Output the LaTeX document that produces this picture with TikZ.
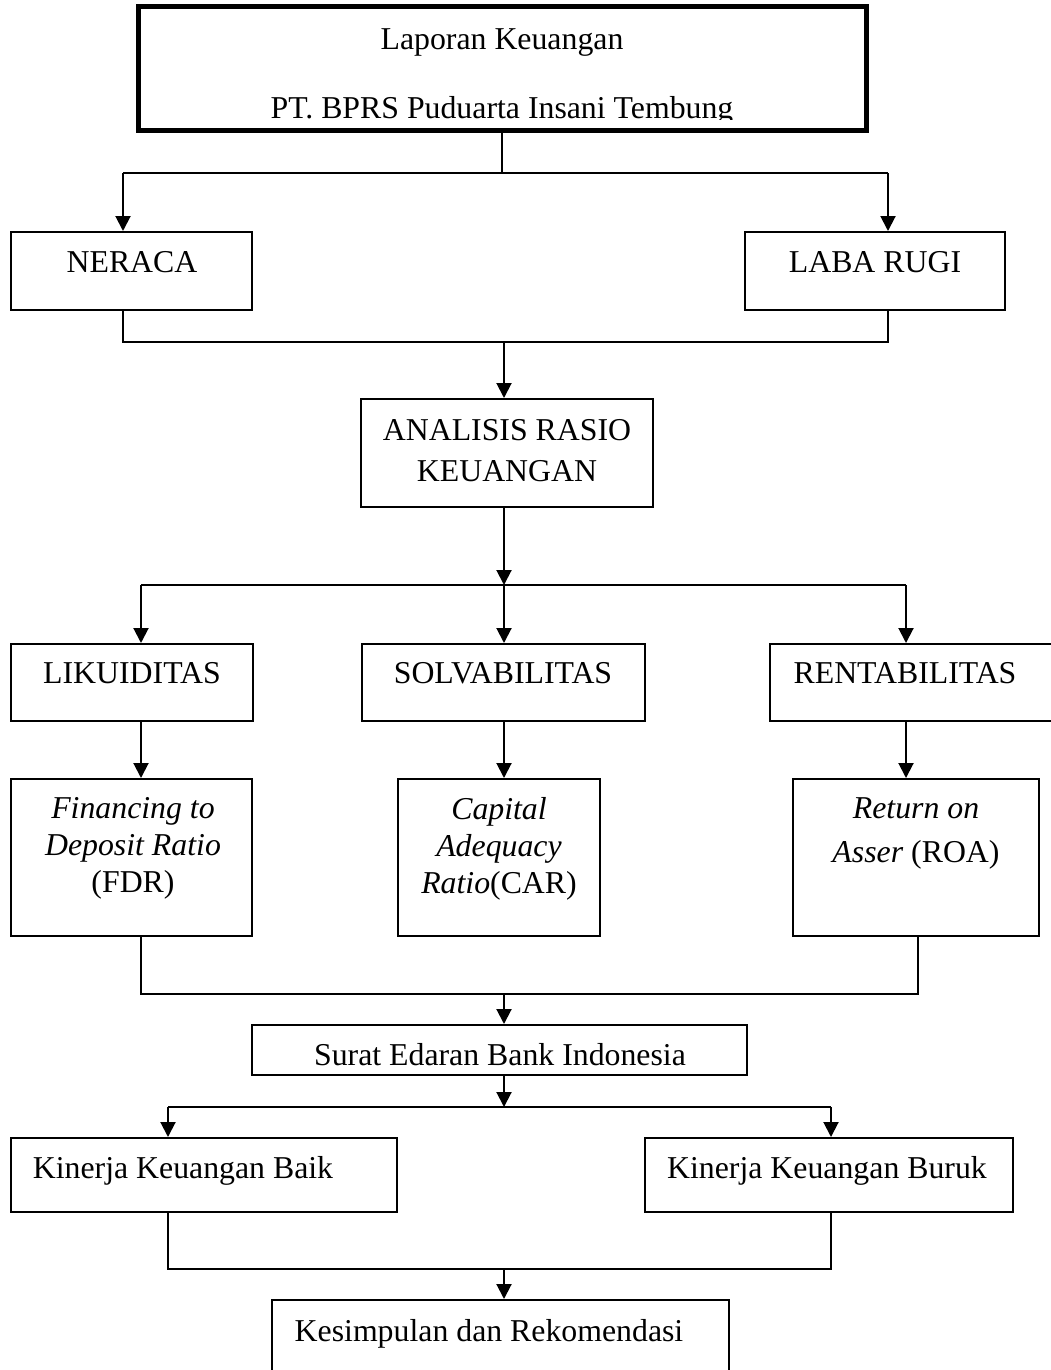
\documentclass[tikz,border=0pt]{standalone}
\usepackage{fontspec}
\setmainfont{Liberation Serif}
\usetikzlibrary{arrows.meta}

\tikzset{
  kotak/.style={draw,line width=1pt,inner sep=0pt},
  teks/.style={inner sep=0pt,align=center},
  garis/.style={line width=1pt},
  panah/.style={line width=1pt,-{Triangle[length=7.5pt,width=7.5pt]}}
}

\begin{document}
\begin{tikzpicture}[x=0.5pt,y=-0.5pt,font=\fontsize{15.9pt}{18.5pt}\selectfont]
\useasboundingbox (0,0) rectangle (1050,1370);

\node[kotak,line width=2.5pt,minimum width=364pt,minimum height=62pt](lap)at(502,69){};
\begin{scope}
\clip (138,7) rectangle (866,120);
\node[teks,anchor=north](lap-t)at(502,28){Laporan Keuangan\\[16pt]PT. BPRS Puduarta Insani Tembung};
\end{scope}

\node[kotak,minimum width=120.5pt,minimum height=39pt](neraca)at(131.5,271){};
\node[teks,anchor=base](neraca-t)at(132,272){NERACA};
\node[kotak,minimum width=130pt,minimum height=39pt](labarugi)at(875,271){};
\node[teks,anchor=base](labarugi-t)at(875,272){LABA RUGI};

\node[kotak,minimum width=146pt,minimum height=54pt](analisis)at(507,453){};
\node[teks,anchor=north](analisis-t)at(507,419){ANALISIS RASIO\\[2pt]KEUANGAN};

\node[kotak,minimum width=121pt,minimum height=38.5pt](likuid)at(132,682.5){};
\node[teks,anchor=base](likuid-t)at(132,683){LIKUIDITAS};
\node[kotak,minimum width=141.5pt,minimum height=38.5pt](solva)at(503.5,682.5){};
\node[teks,anchor=base](solva-t)at(503,683){SOLVABILITAS};
\node[kotak,minimum width=145pt,minimum height=38.5pt](renta)at(915,682.5){};
\node[teks,anchor=base](renta-t)at(905,683){RENTABILITAS};

\node[kotak,minimum width=120.5pt,minimum height=78.5pt](fdr)at(131.5,857.5){};
\node[teks,anchor=north](fdr-t)at(133,797.5){\textit{Financing to}\\\textit{Deposit Ratio}\\(FDR)};
\node[kotak,minimum width=101pt,minimum height=78.5pt](car)at(499,857.5){};
\node[teks,anchor=north](car-t)at(499,797){\textit{Capital}\\\textit{Adequacy}\\\textit{Ratio}(CAR)};
\node[kotak,minimum width=123pt,minimum height=78.5pt](roa)at(916,857.5){};
\node[teks,anchor=north](roa-t)at(916,797){\textit{Return on}\\[3.5pt]\textit{Asser} (ROA)};

\node[kotak,minimum width=247.5pt,minimum height=25pt](surat)at(499.5,1050){};
\node[teks,anchor=base](surat-t)at(500,1065){Surat Edaran Bank Indonesia};

\node[kotak,minimum width=193pt,minimum height=37pt](baik)at(204,1175){};
\node[teks,anchor=base](baik-t)at(183,1178){Kinerja Keuangan Baik};
\node[kotak,minimum width=184pt,minimum height=37pt](buruk)at(829,1175){};
\node[teks,anchor=base](buruk-t)at(827,1178){Kinerja Keuangan Buruk};

\node[kotak,minimum width=228.5pt,minimum height=45pt](simpul)at(500.5,1345){};
\node[teks,anchor=base](simpul-t)at(489,1341){Kesimpulan dan Rekomendasi};

\coordinate(c1)at(504,173);
\coordinate(c1l)at(123,173);
\coordinate(c1r)at(888,173);
\draw[garis](lap.south)--(lap.south|-c1);
\draw[garis](c1l)--(c1r);
\draw[panah](c1l)--(c1l|-neraca.north);
\draw[panah](c1r)--(c1r|-labarugi.north);

\coordinate(c2l)at(123,342);
\coordinate(c2r)at(888,342);
\draw[garis](c2l|-neraca.south)--(c2l)--(c2r)--(c2r|-labarugi.south);
\draw[panah](c1|-c2l)--(c1|-analisis.north);

\coordinate(c3l)at(141,585);
\coordinate(c3r)at(906,585);
\draw[panah](c1|-analisis.south)--(c1|-c3l);
\draw[garis](c3l)--(c3r);
\draw[panah](c3l)--(c3l|-likuid.north);
\draw[panah](c1|-c3l)--(c1|-solva.north);
\draw[panah](c3r)--(c3r|-renta.north);

\draw[panah](c3l|-likuid.south)--(c3l|-fdr.north);
\draw[panah](c1|-solva.south)--(c1|-car.north);
\draw[panah](c3r|-renta.south)--(c3r|-roa.north);

\coordinate(c5l)at(141,994);
\coordinate(c5r)at(918,994);
\draw[garis](c5l|-fdr.south)--(c5l)--(c5r)--(c5r|-roa.south);
\draw[panah](c1|-c5l)--(c1|-surat.north);

\coordinate(c6l)at(168,1107);
\coordinate(c6r)at(831,1107);
\draw[panah](c1|-surat.south)--(c1|-c6l);
\draw[garis](c6l)--(c6r);
\draw[panah](c6l)--(c6l|-baik.north);
\draw[panah](c6r)--(c6r|-buruk.north);

\coordinate(c7l)at(168,1269);
\coordinate(c7r)at(831,1269);
\draw[garis](c6l|-baik.south)--(c7l)--(c7r)--(c6r|-buruk.south);
\draw[panah](c1|-c7l)--(c1|-simpul.north);

\end{tikzpicture}
\end{document}
